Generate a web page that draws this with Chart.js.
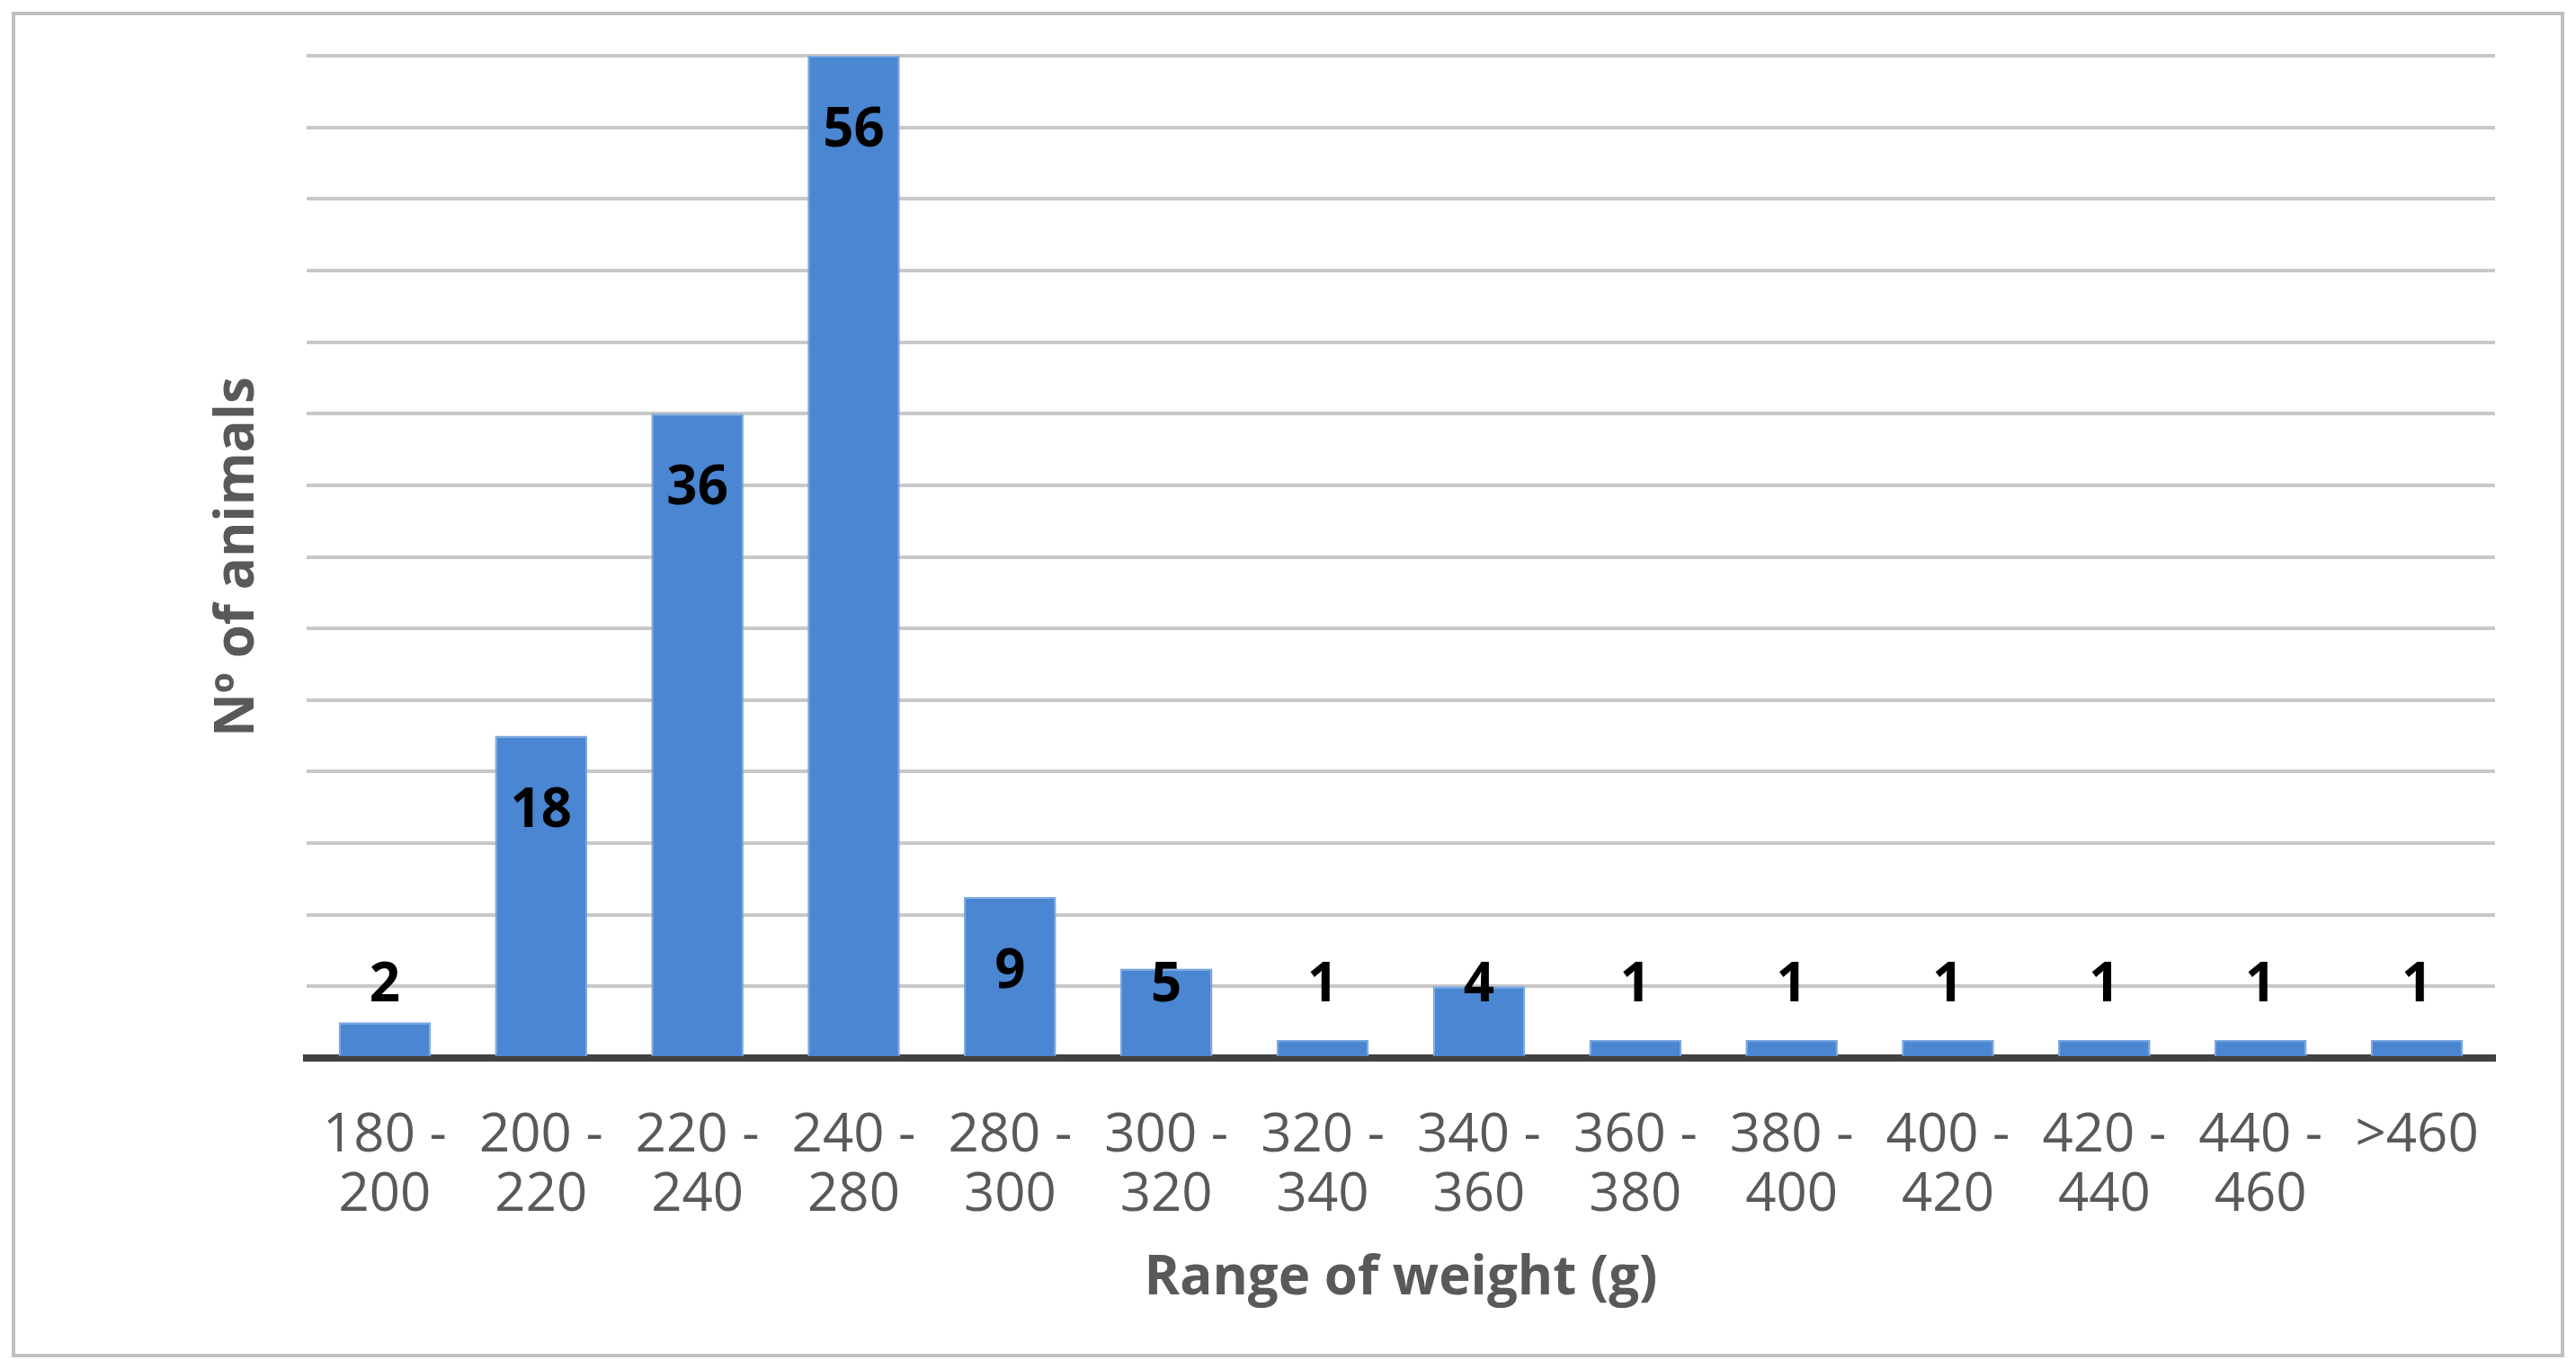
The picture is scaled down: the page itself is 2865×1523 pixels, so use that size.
<!DOCTYPE html>
<html>
<head>
<meta charset="utf-8">
<script src="https://cdn.jsdelivr.net/npm/chart.js@4.4.0/dist/chart.umd.min.js"></script>
<style>
  body { margin: 0; background: #fff; }
  #wrap { width: 2865px; height: 1523px; position: relative; }
</style>
</head>
<body>
<div id="wrap"><canvas id="chart"></canvas></div>
<script>
// weight ranges (two-line labels) and number of animals
const weightRanges = [
    ['180 -', '200'], ['200 -', '220'], ['220 -', '240'], ['240 -', '280'],
    ['280 -', '300'], ['300 -', '320'], ['320 -', '340'], ['340 -', '360'],
    ['360 -', '380'], ['380 -', '400'], ['400 -', '420'], ['420 -', '440'],
    ['440 -', '460'], ['>460', '']
];
const animalCounts = [2, 18, 36, 56, 9, 5, 1, 4, 1, 1, 1, 1, 1, 1];

// frame around the whole figure
const framePlugin = {
    id: 'frame',
    beforeDraw(chart) {
        let ctx = chart.ctx;
        ctx.save();
        ctx.fillStyle = '#fff';
        ctx.fillRect(0, 0, chart.width, chart.height);
        ctx.strokeStyle = '#bfbfbf';
        ctx.lineWidth = 4;
        ctx.strokeRect(15, 15, chart.width - 30, chart.height - 30);
        ctx.restore();
    }
};

// value labels: near top inside the bar, but never lower than the "4" line
const valueLabels = {
    id: 'valueLabels',
    afterDatasetsDraw(chart) {
        let ctx = chart.ctx;
        let yScale = chart.scales.y;
        let floorY = yScale.getPixelForValue(4);
        ctx.save();
        ctx.font = 'bold 60px "Open Sans", "DejaVu Sans", sans-serif';
        ctx.fillStyle = '#000';
        ctx.textAlign = 'center';
        ctx.textBaseline = 'middle';
        chart.getDatasetMeta(0).data.forEach((bar, i) => {
            let y = Math.min(bar.y + 84, floorY);
            ctx.fillText(animalCounts[i], bar.x, y);
        });
        ctx.restore();
    }
};

const data = {
    labels: weightRanges,
    datasets: [{
            data: animalCounts,
            backgroundColor: '#4a86d1',
            borderColor: '#7aa7e0',
            borderWidth: 2,
            categoryPercentage: 1,
            barPercentage: 0.59
        }]
};

const config = {
    type: 'bar',
    data: data,
    options: {
        responsive: true,
        maintainAspectRatio: false,
        animation: false,
        devicePixelRatio: 1,
        layout: { padding: { left: 225, right: 90, top: 62, bottom: 60 } },
        plugins: { legend: { display: false }, tooltip: { enabled: false } },
        scales: {
            x: {
                grid: { display: false },
                border: { color: '#404040', width: 8 },
                ticks: {
                    color: '#595959',
                    padding: 46,
                    maxRotation: 0,
                    autoSkip: false,
                    font: { size: 60, lineHeight: 1.1, family: '"Open Sans", "DejaVu Sans", sans-serif' }
                },
                title: {
                    display: true,
                    text: 'Range of weight (g)',
                    color: '#595959',
                    padding: { top: -22 },
                    font: { size: 60, weight: 'bold', family: '"Open Sans", "DejaVu Sans", sans-serif' }
                }
            },
            y: {
                min: 0,
                max: 56,
                ticks: { stepSize: 4, display: false },
                border: { display: false },
                grid: { color: '#c8c8c8', lineWidth: 4, drawTicks: false },
                title: {
                    display: true,
                    text: 'Nº of animals',
                    color: '#595959',
                    padding: { bottom: 40 },
                    font: { size: 60, weight: 'bold', family: '"Open Sans", "DejaVu Sans", sans-serif' }
                }
            }
        }
    },
    plugins: [framePlugin, valueLabels]
};

let ctx = document.getElementById('chart').getContext('2d');
new Chart(ctx, config);
</script>
</body>
</html>
